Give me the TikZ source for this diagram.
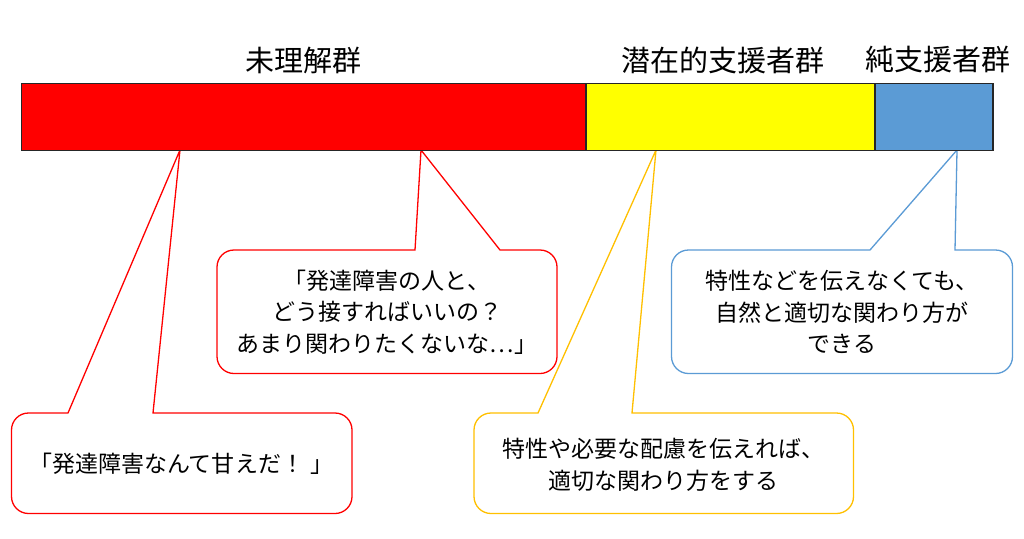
\documentclass[tikz,border=0pt]{standalone}
\usepackage{fontspec}
\setmainfont{Noto Sans CJK JP}
\definecolor{cred}{HTML}{FF0000}
\definecolor{cyel}{HTML}{FFFF00}
\definecolor{cblue}{HTML}{5B9BD5}
\definecolor{corange}{HTML}{FFC000}
\definecolor{cbar}{HTML}{262626}
\tikzset{
  barseg/.style={draw=cbar, line width=1.4pt},
  calloutline/.style={line width=1.3pt, fill=white},
  grouplabel/.style={font=\fontsize{29}{34}\selectfont, inner sep=0pt},
  callouttext/.style={font=\fontsize{23}{31.5}\selectfont, align=center, inner sep=0pt},
}
% #1 colour, #2 left, #3 top, #4 right, #5 bottom, #6 wedge base 1, #7 wedge base 2, #8 apex name
\newcommand{\mycallout}[8]{%
  \draw[calloutline, draw=#1] (#2+17,-#3) -- (#6,-#3) -- (#8) -- (#7,-#3) -- (#4-17,-#3)
    arc[start angle=90,end angle=0,radius=17] -- (#4,-#5+17)
    arc[start angle=0,end angle=-90,radius=17] -- (#2+17,-#5)
    arc[start angle=-90,end angle=-180,radius=17] -- (#2,-#3-17)
    arc[start angle=180,end angle=90,radius=17] -- cycle;}
\begin{document}
\begin{tikzpicture}[x=1pt,y=1pt]
\useasboundingbox (0,0) rectangle (1024,-538);
\fill[white] (0,0) rectangle (1024,-538);

% apex points on the bar's lower edge
\coordinate (a1) at (180,-150);
\coordinate (a2) at (421,-150);
\coordinate (a3) at (656,-150);
\coordinate (a4) at (957,-150);

% callouts
\mycallout{cred}{11.5}{413}{352}{513.5}{68}{153}{a1}
\mycallout{cred}{217}{250}{557}{373.5}{415}{500}{a2}
\mycallout{corange}{474}{413}{853.5}{513.5}{538}{632}{a3}
\mycallout{cblue}{671.5}{250}{1012.5}{373.5}{870}{955}{a4}

% bar
\node[barseg, fill=cred, minimum width=564.3pt, minimum height=66.8pt, inner sep=0pt, anchor=north west] (red) at (20.8,-82.8) {};
\node[barseg, fill=cyel, minimum width=289.2pt, minimum height=66.8pt, inner sep=0pt, anchor=north west] (yellow) at (585.1,-82.8) {};
\node[barseg, fill=cblue, minimum width=118pt, minimum height=66.8pt, inner sep=0pt, anchor=north west] (blue) at (874.3,-82.8) {};

% group labels
\node[grouplabel] (l1) at (303,-60) {未理解群};
\node[grouplabel] (l2) at (723,-60) {潜在的支援者群};
\node[grouplabel] (l3) at (938,-60) {純支援者群};

% callout texts
\node[callouttext] (t1) at (181.5,-464) {「発達障害なんて甘えだ！\hspace{0.3em}」};
\node[callouttext] (t2) at (387,-312) {「発達障害の人と、\\どう接すればいいの？\\あまり関わりたくないな…」};
\node[callouttext] (t3) at (663.5,-465) {特性や必要な配慮を伝えれば、\\適切な関わり方をする};
\node[callouttext] (t4) at (842,-312) {特性などを伝えなくても、\\自然と適切な関わり方が\\できる};
\end{tikzpicture}
\end{document}
